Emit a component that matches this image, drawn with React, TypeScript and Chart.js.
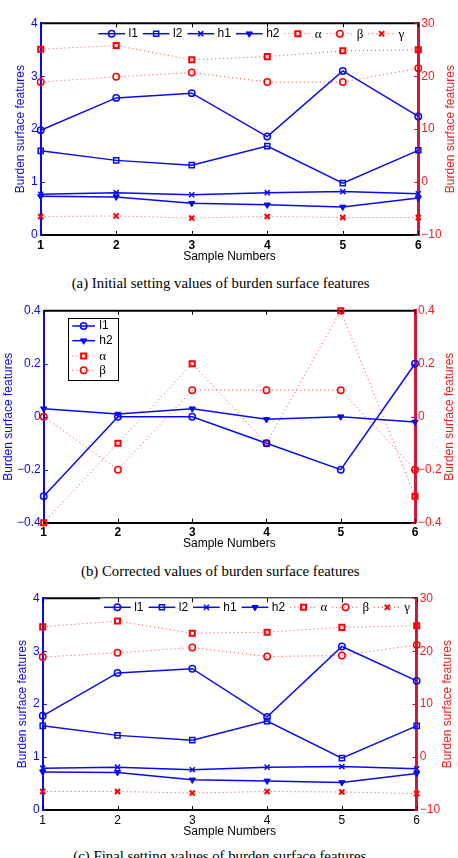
import React, { useEffect, useRef } from "react";
import { Chart, registerables } from "chart.js";
import { drawPoint } from "chart.js/helpers";

Chart.register(...registerables);

// ---------- data ----------
const sampleNumbers = ["1", "2", "3", "4", "5", "6"];

// (a) initial setting values
const initL1 = [1.98, 2.59, 2.68, 1.86, 3.1, 2.24];
const initL2 = [1.59, 1.41, 1.32, 1.68, 0.98, 1.6];
const initH1 = [0.77, 0.8, 0.76, 0.8, 0.82, 0.78];
const initH2 = [0.73, 0.72, 0.6, 0.57, 0.53, 0.7];
const initAlpha = [25.1, 25.8, 23.1, 23.7, 24.8, 25.0];
const initBeta = [18.9, 19.9, 20.7, 18.9, 18.9, 21.5];
const initGamma = [-6.5, -6.4, -6.8, -6.5, -6.7, -6.7];

// (b) corrected values
const corrL1 = [-0.3, 0, 0, -0.1, -0.2, 0.2];
const corrH2 = [0.03, 0.01, 0.03, -0.01, 0.0, -0.02];
const corrAlpha = [-0.4, -0.1, 0.2, -0.1, 0.4, -0.3];
const corrBeta = [0, -0.2, 0.1, 0.1, 0.1, -0.2];

// (c) final setting values
const finalL1 = [1.78, 2.59, 2.67, 1.76, 3.09, 2.44];
const finalL2 = [1.59, 1.41, 1.32, 1.68, 0.98, 1.59];
const finalH1 = [0.79, 0.81, 0.76, 0.81, 0.82, 0.78];
const finalH2 = [0.72, 0.71, 0.57, 0.55, 0.52, 0.69];
const finalAlpha = [24.6, 25.7, 23.4, 23.6, 24.5, 24.8];
const finalBeta = [18.9, 19.7, 20.7, 19.0, 19.2, 21.2];
const finalGamma = [-6.5, -6.5, -6.8, -6.5, -6.6, -6.9];

// axis ranges [min, max, step]
const leftRangeAC = [0, 4, 1];
const rightRangeAC = [-10, 30, 10];
const rangeB = [-0.4, 0.4, 0.2];

const axisTitle = "Burden surface features";
const xTitle = "Sample Numbers";
const captionA = "(a) Initial setting values of burden surface features";
const captionB = "(b) Corrected values of burden surface features";
const captionC = "(c) Final setting values of burden surface features";

// ---------- styles ----------
const FONT = "'Liberation Sans', Arial, sans-serif";
const SERIF = "'Liberation Serif', 'Times New Roman', serif";
const BLUE = "#0a0af0";
const RED = "#ff0000";
const RED_TEXT = "#f02020";
const CRIMSON = "#c81e3c";

type StyleKey = "l1" | "l2" | "h1" | "h2" | "alpha" | "beta" | "gamma";
const STYLES: Record<StyleKey, any> = {
  l1: { label: "l1", color: BLUE, dashed: false, pointStyle: "circle", radius: 3.2, bw: 1.5, fill: false, rotation: 0, greek: false },
  l2: { label: "l2", color: BLUE, dashed: false, pointStyle: "rect", radius: 3.6, bw: 1.5, fill: false, rotation: 0, greek: false },
  h1: { label: "h1", color: BLUE, dashed: false, pointStyle: "crossRot", radius: 3.6, bw: 1.5, fill: false, rotation: 0, greek: false },
  h2: { label: "h2", color: BLUE, dashed: false, pointStyle: "triangle", radius: 3.6, bw: 1, fill: true, rotation: 180, greek: false },
  alpha: { label: "α", color: RED, dashed: true, pointStyle: "rect", radius: 3.6, bw: 2, fill: false, rotation: 0, greek: true },
  beta: { label: "β", color: RED, dashed: true, pointStyle: "circle", radius: 3.2, bw: 1.5, fill: false, rotation: 0, greek: true },
  gamma: { label: "γ", color: RED, dashed: true, pointStyle: "crossRot", radius: 3.6, bw: 2, fill: false, rotation: 0, greek: true },
};

const fmt = (v: any) => {
  let s = String(Math.round(Number(v) * 10) / 10);
  if (s === "-0") s = "0";
  return s.replace("-", "\u2212");
};

function drawMarker(ctx: CanvasRenderingContext2D, st: any, x: number, y: number) {
  ctx.save();
  ctx.setLineDash([]);
  ctx.strokeStyle = st.color;
  ctx.fillStyle = st.fill ? st.color : "rgba(0,0,0,0)";
  ctx.lineWidth = st.bw;
  drawPoint(ctx, { pointStyle: st.pointStyle, rotation: st.rotation, radius: st.radius, borderWidth: st.bw } as any, x, y);
  ctx.restore();
}

function drawLegendLine(ctx: CanvasRenderingContext2D, st: any, x0: number, x1: number, y: number) {
  ctx.save();
  ctx.beginPath();
  ctx.strokeStyle = st.dashed ? "rgba(255,0,0,0.75)" : st.color;
  ctx.lineWidth = st.dashed ? 1 : 1.5;
  ctx.setLineDash(st.dashed ? [1, 3] : []);
  ctx.moveTo(x0, y);
  ctx.lineTo(x1, y);
  ctx.stroke();
  ctx.restore();
}

function legendFont(st: any) {
  return st.greek ? `13px ${SERIF}` : `12px ${FONT}`;
}

function makeDecor(cfg: any) {
  return {
    id: "decor",
    beforeDatasetsDraw(chart: any) {
      const { ctx, chartArea } = chart;
      const { left, right, top, bottom } = chartArea;
      ctx.save();
      // top border
      ctx.strokeStyle = "#000";
      const split = Math.min(cfg.topThickUntil ?? right, right);
      ctx.lineWidth = 2;
      ctx.beginPath();
      ctx.moveTo(left, top);
      ctx.lineTo(split, top);
      ctx.stroke();
      if (split < right) {
        ctx.lineWidth = 1;
        ctx.beginPath();
        ctx.moveTo(split, top - 0.5);
        ctx.lineTo(right, top - 0.5);
        ctx.stroke();
      }
      // inward x ticks
      const xs = chart.scales.x;
      ctx.lineWidth = 1;
      for (let i = 0; i < sampleNumbers.length; i++) {
        const px = Math.round(xs.getPixelForTick(i)) + 0.5;
        ctx.beginPath();
        ctx.moveTo(px, bottom);
        ctx.lineTo(px, bottom - 4);
        ctx.moveTo(px, top);
        ctx.lineTo(px, top + 4);
        ctx.stroke();
      }
      // inward y ticks
      const ys = chart.scales.y;
      ctx.strokeStyle = BLUE;
      ys.ticks.forEach((t: any) => {
        const py = Math.round(ys.getPixelForValue(t.value)) + 0.5;
        ctx.beginPath();
        ctx.moveTo(left, py);
        ctx.lineTo(left + 4, py);
        ctx.stroke();
      });
      const y1 = chart.scales.y1;
      ctx.strokeStyle = RED;
      y1.ticks.forEach((t: any) => {
        const py = Math.round(y1.getPixelForValue(t.value)) + 0.5;
        ctx.beginPath();
        ctx.moveTo(right, py);
        ctx.lineTo(right - 4, py);
        ctx.stroke();
      });
      ctx.restore();
    },
    afterDatasetsDraw(chart: any) {
      const { ctx } = chart;
      const lg = cfg.legend;
      ctx.save();
      if (lg.type === "row") {
        let x = lg.startX;
        lg.keys.forEach((k: StyleKey) => {
          const st = STYLES[k];
          drawLegendLine(ctx, st, x, x + lg.lineLen, lg.y);
          drawMarker(ctx, st, x + lg.lineLen / 2, lg.y);
          ctx.font = legendFont(st);
          ctx.fillStyle = "#000";
          ctx.textAlign = "left";
          ctx.textBaseline = "middle";
          const tx = x + lg.lineLen + lg.textGap;
          ctx.fillText(st.label, tx, lg.y + (st.greek ? 0.5 : 0));
          x = tx + ctx.measureText(st.label).width + lg.itemGap;
        });
      } else {
        const [bx, by, bw, bh] = lg.box;
        ctx.fillStyle = "#fff";
        ctx.fillRect(bx, by, bw, bh);
        ctx.strokeStyle = "#000";
        ctx.lineWidth = 1;
        ctx.strokeRect(Math.round(bx) + 0.5, Math.round(by) + 0.5, Math.round(bw), Math.round(bh));
        lg.keys.forEach((k: StyleKey, i: number) => {
          const st = STYLES[k];
          const y = lg.rows[i];
          drawLegendLine(ctx, st, lg.lineX0, lg.lineX1, y);
          drawMarker(ctx, st, (lg.lineX0 + lg.lineX1) / 2, y);
          ctx.font = legendFont(st);
          ctx.fillStyle = "#000";
          ctx.textAlign = "left";
          ctx.textBaseline = "middle";
          ctx.fillText(st.label, lg.textX, y + (st.greek ? 0.5 : 0));
        });
      }
      ctx.restore();
    },
    afterDraw(chart: any) {
      const { ctx, chartArea } = chart;
      const { left, right, top, bottom } = chartArea;
      ctx.save();
      ctx.font = `12px ${FONT}`;
      ctx.textAlign = "center";
      ctx.textBaseline = "middle";
      ctx.fillStyle = "#000";
      ctx.fillText(xTitle, (left + right) / 2, bottom + cfg.xTitleOffset);
      const midY = (top + bottom) / 2;
      ctx.save();
      ctx.translate(cfg.leftTitleX, midY);
      ctx.rotate(-Math.PI / 2);
      ctx.fillStyle = BLUE;
      ctx.fillText(axisTitle, 0, 0);
      ctx.restore();
      ctx.save();
      ctx.translate(cfg.rightTitleX, midY);
      ctx.rotate(-Math.PI / 2);
      ctx.fillStyle = RED_TEXT;
      ctx.fillText(axisTitle, 0, 0);
      ctx.restore();
      ctx.restore();
    },
  };
}

function buildConfig(cfg: any): any {
  const datasets = cfg.series.map((s: any) => {
    const st = STYLES[s.key as StyleKey];
    return {
      label: st.label,
      data: s.data,
      yAxisID: s.axis,
      borderColor: st.dashed ? "rgba(255,0,0,0.75)" : st.color,
      borderWidth: st.dashed ? 1 : 1.5,
      borderDash: st.dashed ? [1, 3] : [],
      pointStyle: st.pointStyle,
      pointRadius: st.radius,
      pointRotation: st.rotation,
      pointBorderColor: st.color,
      pointBackgroundColor: st.fill ? st.color : "rgba(0,0,0,0)",
      pointBorderWidth: st.bw,
      tension: 0,
      fill: false,
      clip: false,
    };
  });
  const tickFont = { family: FONT, size: 12 };
  return {
    type: "line",
    data: { labels: sampleNumbers, datasets },
    options: {
      responsive: false,
      animation: false,
      layout: { padding: { top: cfg.padTop, left: 0, right: 0, bottom: 0 } },
      plugins: { legend: { display: false }, tooltip: { enabled: false } },
      scales: {
        x: {
          type: "category",
          offset: false,
          grid: { display: false, drawTicks: false },
          border: { display: true, color: "#000", width: 2 },
          ticks: {
            color: "#000",
            padding: 3,
            maxRotation: 0,
            autoSkip: false,
            font: { ...tickFont, weight: cfg.xBold ? "bold" : "normal" },
          },
          afterFit: (s: any) => {
            s.height = cfg.xHeight;
          },
        },
        y: {
          type: "linear",
          position: "left",
          min: cfg.leftRange[0],
          max: cfg.leftRange[1],
          grid: { display: false, drawTicks: false },
          border: { display: true, color: BLUE, width: 2 },
          ticks: { stepSize: cfg.leftRange[2], color: BLUE, padding: 3, font: tickFont, callback: fmt },
          afterFit: (s: any) => {
            s.width = cfg.leftW;
          },
        },
        y1: {
          type: "linear",
          position: "right",
          min: cfg.rightRange[0],
          max: cfg.rightRange[1],
          grid: { display: false, drawTicks: false },
          border: { display: true, color: CRIMSON, width: 3 },
          ticks: { stepSize: cfg.rightRange[2], color: RED_TEXT, padding: 3, font: tickFont, callback: fmt },
          afterFit: (s: any) => {
            s.width = cfg.rightW;
          },
        },
      },
    },
    plugins: [makeDecor(cfg)],
  };
}

const panelA = {
  canvasTop: 0,
  canvasHeight: 270,
  padTop: 23.3,
  xHeight: 35,
  leftW: 40.7,
  rightW: 39.7,
  leftRange: leftRangeAC,
  rightRange: rightRangeAC,
  xTitleOffset: 21.7,
  leftTitleX: 21,
  rightTitleX: 450.7,
  xBold: true,
  series: [
    { key: "l1", data: initL1, axis: "y" },
    { key: "l2", data: initL2, axis: "y" },
    { key: "h1", data: initH1, axis: "y" },
    { key: "h2", data: initH2, axis: "y" },
    { key: "alpha", data: initAlpha, axis: "y1" },
    { key: "beta", data: initBeta, axis: "y1" },
    { key: "gamma", data: initGamma, axis: "y1" },
  ],
  legend: { type: "row", keys: ["l1", "l2", "h1", "h2", "alpha", "beta", "gamma"], startX: 98.3, y: 33.7, lineLen: 26.7, textGap: 3.5, itemGap: 5 },
};

const panelB = {
  canvasTop: 290,
  canvasHeight: 270,
  padTop: 20.7,
  xHeight: 37.3,
  leftW: 43.7,
  rightW: 43,
  leftRange: rangeB,
  rightRange: rangeB,
  xTitleOffset: 20.6,
  leftTitleX: 8.5,
  rightTitleX: 449.7,
  xBold: true,
  series: [
    { key: "l1", data: corrL1, axis: "y" },
    { key: "h2", data: corrH2, axis: "y" },
    { key: "alpha", data: corrAlpha, axis: "y1" },
    { key: "beta", data: corrBeta, axis: "y1" },
  ],
  legend: { type: "box", keys: ["l1", "h2", "alpha", "beta"], box: [67.7, 27.7, 49.6, 61.6], rows: [36, 50.7, 66, 80.3], lineX0: 72.3, lineX1: 95, textX: 99.3 },
};

const panelC = {
  canvasTop: 580,
  canvasHeight: 265,
  padTop: 18.3,
  xHeight: 35,
  leftW: 42.7,
  rightW: 41.3,
  leftRange: leftRangeAC,
  rightRange: rightRangeAC,
  xTitleOffset: 21.7,
  leftTitleX: 22.7,
  rightTitleX: 448,
  xBold: false,
  topThickUntil: 100,
  series: [
    { key: "l1", data: finalL1, axis: "y" },
    { key: "l2", data: finalL2, axis: "y" },
    { key: "h1", data: finalH1, axis: "y" },
    { key: "h2", data: finalH2, axis: "y" },
    { key: "alpha", data: finalAlpha, axis: "y1" },
    { key: "beta", data: finalBeta, axis: "y1" },
    { key: "gamma", data: finalGamma, axis: "y1" },
  ],
  legend: { type: "row", keys: ["l1", "l2", "h1", "h2", "alpha", "beta", "gamma"], startX: 104, y: 27.3, lineLen: 26.7, textGap: 3.5, itemGap: 5 },
};

function Panel({ cfg }: { cfg: any }) {
  const ref = useRef<HTMLCanvasElement>(null);
  useEffect(() => {
    const chart = new Chart(ref.current as HTMLCanvasElement, buildConfig(cfg));
    return () => chart.destroy();
  }, []);
  return (
    <canvas
      ref={ref}
      width={458}
      height={cfg.canvasHeight}
      style={{ position: "absolute", left: 0, top: cfg.canvasTop, width: 458, height: cfg.canvasHeight }}
    />
  );
}

const captionStyle: React.CSSProperties = {
  position: "absolute",
  fontFamily: SERIF,
  fontSize: "14.8px",
  lineHeight: "17px",
  color: "#000",
  whiteSpace: "nowrap",
};

export default function App() {
  return (
    <div style={{ position: "absolute", left: 0, top: 0, width: 458, height: 858, background: "#fff", overflow: "hidden" }}>
      <Panel cfg={panelA} />
      <div style={{ ...captionStyle, left: 71.7, top: 274.8 }}>{captionA}</div>
      <Panel cfg={panelB} />
      <div style={{ ...captionStyle, left: 81, top: 563.2 }}>{captionB}</div>
      <Panel cfg={panelC} />
      <div style={{ ...captionStyle, left: 73.3, top: 848.2 }}>{captionC}</div>
    </div>
  );
}
